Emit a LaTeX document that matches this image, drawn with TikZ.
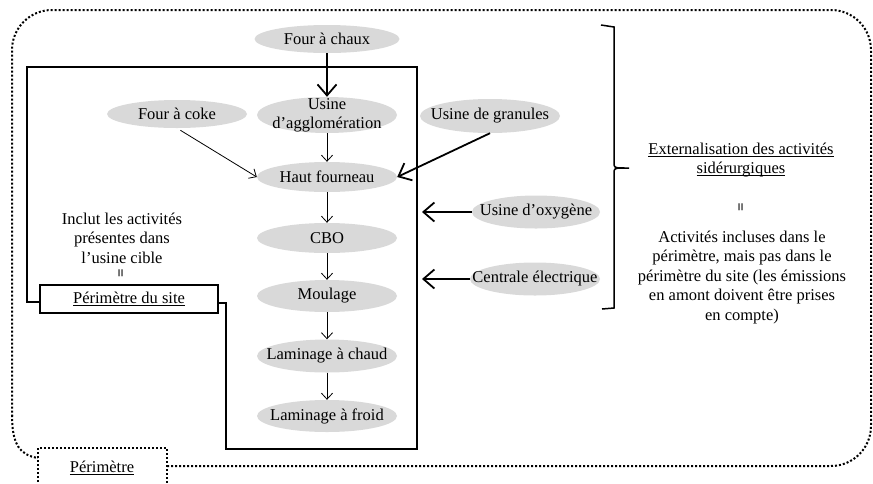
\documentclass[tikz,border=0pt]{standalone}
\usepackage{fontspec}
\setmainfont{Liberation Serif}
\usetikzlibrary{shapes.geometric,arrows.meta}
\definecolor{grisclair}{HTML}{D9D9D9}
\newcommand\souligne[1]{\setbox0=\hbox{#1}\rlap{\rule[-2.5pt]{\wd0}{0.8pt}}\box0}
\newcommand\etiq[1]{\makebox[0pt]{#1}}

\begin{document}
\begin{tikzpicture}[x=1pt,y=-1pt,
    every node/.style={font=\fontsize{16.5}{19.5}\selectfont},
    ovale/.style={ellipse,fill=grisclair,inner sep=0pt,minimum width=140pt,minimum height=30pt},
    fin/.style={-{Straight Barb[length=6pt,width=11pt]},line width=0.8pt},
    gros/.style={-{Straight Barb[length=11pt,width=19pt]},line width=1.8pt},
    cadre/.style={line width=1.8pt},
    pointille/.style={line width=2pt,dash pattern=on 2pt off 2pt},
    egal/.style={rotate=90,font=\fontsize{15}{15}\selectfont\bfseries}]
\useasboundingbox (0,0) rectangle (873,483);

% perimetre global
\draw[pointille,rounded corners=40pt] (167,466) -- (871,466) -- (871,10) -- (12,10) -- (12,416);
\draw[pointille] (12,415) .. controls (12,445) and (20,455) .. (38,458);
\draw[pointille] (38,490) -- (38,448) -- (167,448) -- (167,490);
\node (perim) at (102,468) {\souligne{Périmètre}};

% perimetre du site
\node[draw,cadre,minimum width=178pt,minimum height=28pt,inner sep=0pt] (site) at (129,299) {\souligne{Périmètre du site}};
\draw[cadre] ([yshift=-3pt]site.west) -- (27,302) -- (27,67) -- (417,67) -- (417,449)
    -- (226,449) -- (226,303) -- ([yshift=-4pt]site.east);

% activites
\node[ovale,minimum width=145pt,minimum height=28pt] (chaux) at (327,39) {\etiq{Four à chaux}};
\node[ovale,minimum height=36pt,inner ysep=-7pt] (aggl) at (327,115)
    {\etiq{\begin{tabular}{@{}c@{}}Usine\\d’agglomération\end{tabular}}};
\node[ovale,minimum height=28pt] (coke) at (177,114) {\etiq{Four à coke}};
\node[ovale,minimum height=34pt] (gran) at (490,116) {\etiq{Usine de granules}};
\node[ovale] (haut) at (327,177) {\etiq{Haut fourneau}};
\node[ovale] (cbo) at (327,238) {\etiq{CBO}};
\node[ovale,minimum height=32pt] (moul) at (327,296) {\etiq{Moulage}};
\node[ovale,minimum height=33pt] (chaud) at (327,356) {\etiq{Laminage à chaud}};
\node[ovale,minimum height=32pt] (froid) at (327,416) {\etiq{Laminage à froid}};
\node[ovale,minimum width=128pt,minimum height=33pt] (oxy) at (536,212) {\etiq{Usine d’oxygène}};
\node[ovale,minimum width=130pt,minimum height=33pt] (cent) at (535,279) {\etiq{Centrale électrique}};

\coordinate (bordO) at (422,212);
\coordinate (bordC) at (422,279);

\draw[gros] (chaux) -- (aggl);
\draw[fin] (aggl) -- (haut);
\draw[fin,shorten <=4pt] (coke.south) -- (haut.west);
\draw[gros] (gran.south) -- (haut.east);
\foreach \a/\b in {haut/cbo,cbo/moul,moul/chaud,chaud/froid}
    \draw[fin] (\a) -- (\b);
\draw[gros] (oxy) -- (bordO);
\draw[gros] (cent) -- (bordC);

% accolade
\draw[line width=1.5pt] (601,25) -- (614,27) -- (614,165)
    .. controls (615,168) .. (629,168) .. controls (615,168) .. (614,171)
    -- (614,308) -- (602,309);

% textes
\node[align=center] (incl) at (122,238) {Inclut les activités\\présentes dans\\l’usine cible};
\node[egal] (egal1) at (122,273) {=};
\node[align=center] (ext) at (741,160) {\souligne{Externalisation des activités}\\\souligne{sidérurgiques}};
\node[egal] (egal2) at (742,207) {=};
\node[align=center] (act) at (742,277.5) {Activités incluses dans le\\périmètre, mais pas dans le\\périmètre du site (les émissions\\en amont doivent être prises\\en compte)};
\end{tikzpicture}
\end{document}
